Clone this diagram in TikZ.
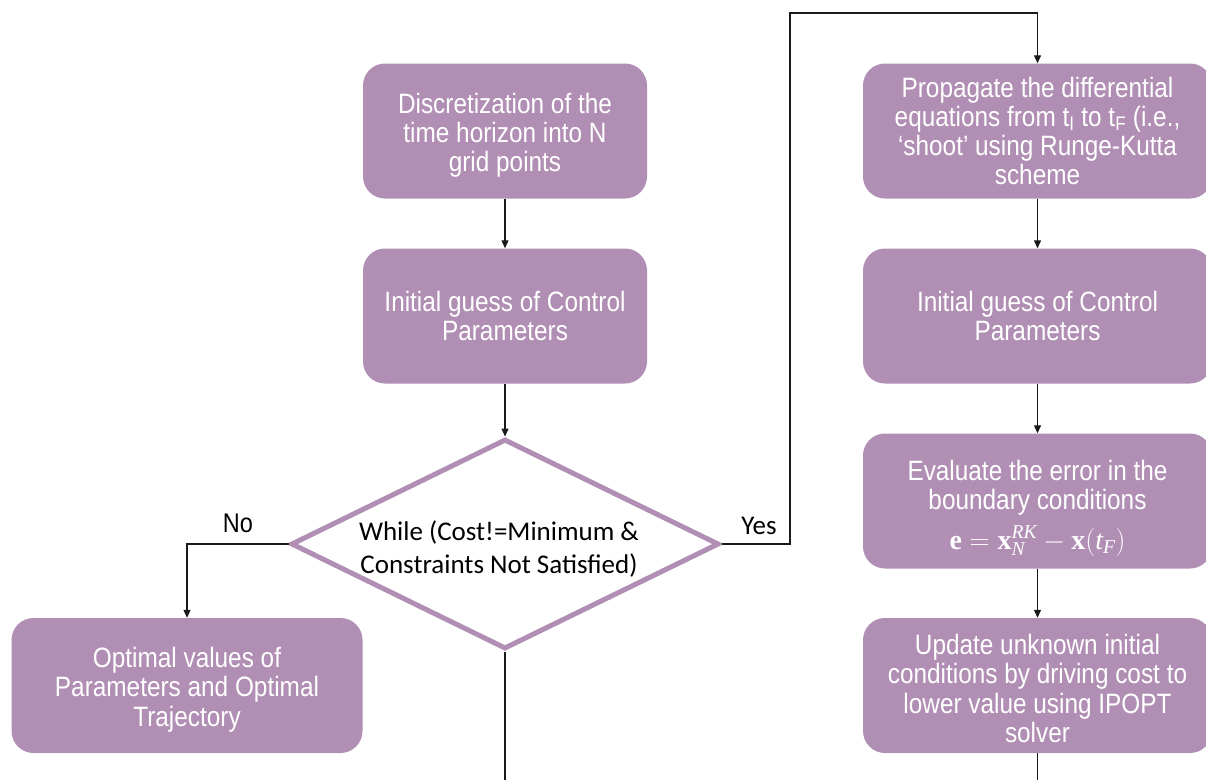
\RequirePackage{fix-cm}
\documentclass[tikz,border=0pt]{standalone}
\usepackage{amsmath}
\usepackage[no-math]{fontspec}
\setmainfont{Liberation Sans}
\newfontfamily\boxfont{Liberation Sans}[FakeStretch=0.87]
\newfontfamily\calfont{Carlito}
\newfontfamily\tnrfont{Liberation Serif}
\newcommand{\mtb}[1]{\text{\tnrfont\bfseries #1}}
\newcommand{\mti}[1]{\text{\tnrfont\itshape #1}}
\newcommand{\lowerby}[1]{\rule{0pt}{#1}}
\usetikzlibrary{shapes.geometric,arrows.meta}
\definecolor{mauve}{HTML}{B18FB4}
\definecolor{linecol}{HTML}{1A1A1A}
\begin{document}
\begin{tikzpicture}[x=1pt,y=-1pt,
  pbox/.style={draw=none, fill=mauve, rounded corners=22pt, text=white, align=center,
    font=\boxfont\fontsize{28}{29.3}\selectfont, inner sep=0pt},
  midbox/.style={pbox, minimum width=284pt, minimum height=135pt},
  widebox/.style={pbox, minimum width=349pt, minimum height=135pt},
  conn/.style={draw=linecol, line width=1.2pt, -{Triangle[length=8pt,width=7pt]}},
  plain/.style={draw=linecol, line width=1.2pt},
  decision/.style={diamond, draw=mauve, line width=5pt, fill=white, aspect=2,
    minimum width=428pt, minimum height=210pt, inner sep=0pt},
  dtext/.style={inner sep=0pt, align=center, font=\calfont\fontsize{27}{33}\selectfont},
  lbl/.style={inner sep=0pt}]
\useasboundingbox (0,0) rectangle (1206,780);

\node[midbox] (b1) at (505,131) {\lowerby{28.5pt}Discretization of the\\time horizon into N\\grid points};
\node[midbox] (b2) at (505,316) {Initial guess of Control\\Parameters};
\node[decision] (d) at (505,544) {};
\node[dtext] (dt) at (499,549) {While (Cost!=Minimum \&\\Constraints Not Satisfied)};
\node[widebox, minimum width=351pt] (L) at (187,685.5) {\lowerby{28.5pt}Optimal values of\\Parameters and Optimal\\Trajectory};

\node[widebox] (R1) at (1037.5,131) {Propagate the differential\\equations from t\textsubscript{I} to t\textsubscript{F} (i.e.,\\‘shoot’ using Runge-Kutta\\scheme};
\node[widebox] (R2) at (1037.5,316) {Initial guess of Control\\Parameters};
\node[widebox] (R3) at (1037.5,501) {\lowerby{34.5pt}Evaluate the error in the\\boundary conditions\\[10pt]{\fontsize{28}{29}\selectfont$\mtb{e}=\mtb{x}_{\mti{N}}^{\mti{RK}}-\mtb{x}(\mti{t}_{\mti{F}})$}};
\node[widebox] (R4) at (1037.5,685.5) {\lowerby{26.5pt}Update unknown initial\\conditions by driving cost to\\lower value using IPOPT\\solver};

\node[lbl, font=\boxfont\fontsize{27}{30}\selectfont] (no) at (238,523) {No};
\node[lbl, font=\calfont\fontsize{27}{30}\selectfont] (yes) at (759,526) {Yes};

\coordinate (k1) at (790,544);
\coordinate (k2) at (790,13);
\coordinate (e1) at (505,780);
\coordinate (e2) at (1037.5,780);

\draw[conn] (b1.south) -- (b2.north);
\draw[conn] (b2.south) -- (d.north);
\draw[conn] (d.west) -| (L.north);
\draw[conn] (d.east) -- (k1) -- (k2) -| (R1.north);
\draw[conn] (R1.south) -- (R2.north);
\draw[conn] (R2.south) -- (R3.north);
\draw[conn] (R3.south) -- (R4.north);
\draw[plain] (d.south) -- (e1);
\draw[plain] (R4.south) -- (e2);
\end{tikzpicture}
\end{document}
